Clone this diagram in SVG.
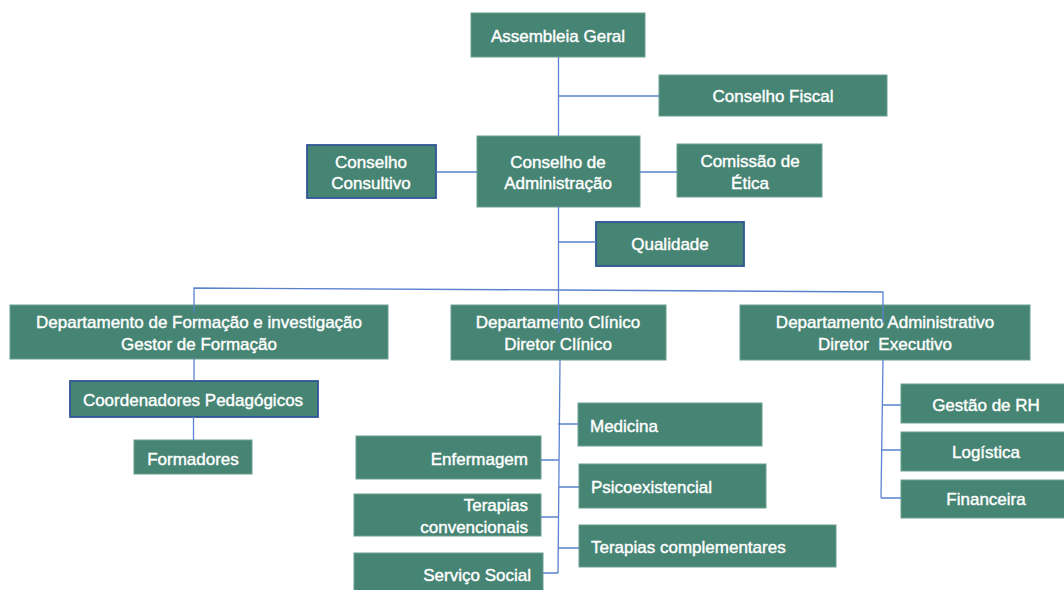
<svg xmlns="http://www.w3.org/2000/svg" width="1064" height="590" viewBox="0 0 1064 590">
<style>
.b{fill:#468473;stroke:#6a9f8f;stroke-width:1}
.bb{fill:#468473;stroke:#2f5597;stroke-width:1.8}
.t{font-family:"Liberation Sans",Arial,sans-serif;font-size:17px;fill:#ffffff;stroke:#ffffff;stroke-width:0.4;dominant-baseline:central}
.c{text-anchor:middle}
.r{text-anchor:end}
.l{text-anchor:start}
.ln{fill:none;stroke:#5a82cf;stroke-width:1.3}
</style>
<rect width="1064" height="590" fill="#ffffff"/>
<g id="assembleia"><rect class="b" x="471" y="13" width="174" height="44"/><text class="t c" x="558" y="36">Assembleia Geral</text></g>
<g id="fiscal"><rect class="b" x="659" y="75" width="228" height="41"/><text class="t c" x="773" y="96">Conselho Fiscal</text></g>
<g id="admin"><rect class="b" x="477" y="136" width="163" height="71"/><text class="t c" x="558" y="162">Conselho de</text><text class="t c" x="558" y="183">Administração</text></g>
<g id="consultivo"><rect class="bb" x="307" y="145" width="129" height="53"/><text class="t c" x="371" y="162">Conselho</text><text class="t c" x="371" y="183">Consultivo</text></g>
<g id="etica"><rect class="b" x="677" y="144" width="145" height="53"/><text class="t c" x="750" y="161">Comissão de</text><text class="t c" x="750" y="183">Ética</text></g>
<g id="qualidade"><rect class="bb" x="596" y="222" width="148" height="44"/><text class="t c" x="670" y="244">Qualidade</text></g>
<g id="dep-formacao"><rect class="b" x="10" y="305" width="378" height="54"/><text class="t c" x="199" y="322">Departamento de Formação e investigação</text><text class="t c" x="199" y="344">Gestor de Formação</text></g>
<g id="dep-clinico"><rect class="b" x="451" y="305" width="215" height="55"/><text class="t c" x="558" y="322">Departamento Clínico</text><text class="t c" x="558" y="344">Diretor Clínico</text></g>
<g id="dep-admin"><rect class="b" x="740" y="305" width="290" height="55"/><text class="t c" x="885" y="322" xml:space="preserve">Departamento Administrativo</text><text class="t c" x="885" y="344" xml:space="preserve">Diretor  Executivo</text></g>
<g id="coordenadores"><rect class="bb" x="70" y="381" width="248" height="36"/><text class="t c" x="193" y="400">Coordenadores Pedagógicos</text></g>
<g id="formadores"><rect class="b" x="134" y="440" width="118" height="34"/><text class="t c" x="193" y="459">Formadores</text></g>
<g id="medicina"><rect class="b" x="578" y="403" width="184" height="43"/><text class="t l" x="590" y="426">Medicina</text></g>
<g id="psico"><rect class="b" x="579" y="464" width="187" height="44"/><text class="t l" x="591" y="487">Psicoexistencial</text></g>
<g id="ter-compl"><rect class="b" x="579" y="525" width="257" height="42"/><text class="t l" x="591" y="547">Terapias complementares</text></g>
<g id="enfermagem"><rect class="b" x="356" y="436" width="185" height="43"/><text class="t r" x="528" y="459">Enfermagem</text></g>
<g id="ter-conv"><rect class="b" x="354" y="494" width="187" height="42"/><text class="t r" x="528" y="505">Terapias</text><text class="t r" x="528" y="527">convencionais</text></g>
<g id="servico"><rect class="b" x="354" y="553" width="189" height="40"/><text class="t r" x="531" y="575">Serviço Social</text></g>
<g id="rh"><rect class="b" x="901" y="384" width="170" height="39"/><text class="t c" x="986" y="405">Gestão de RH</text></g>
<g id="logistica"><rect class="b" x="901" y="432" width="170" height="39"/><text class="t c" x="986" y="452">Logística</text></g>
<g id="financeira"><rect class="b" x="901" y="480" width="170" height="38"/><text class="t c" x="986" y="499">Financeira</text></g>
<g id="connectors">
<path class="ln" d="M558.5 57 V136 M558.5 96 H659 M436 172 H477 M640 172 H677 M558.5 207 V290 M558.5 242 H596"/>
<path class="ln" d="M194 313 V288 L558.5 290 L883 292 V323"/>
<path class="ln" d="M558.5 290 V333"/>
<path class="ln" d="M194 359 V381 M193.5 417 V440"/>
<path class="ln" d="M560 360 L558 573 M558 424 H578 M541 460 H559.5 M558.5 487 H579 M541 517 H558.5 M558 548 H579 M543 573 H558"/>
<path class="ln" d="M883 360 L881 498 M882 405 H901 M881.5 450 H901 M881 498 H901"/>
</g>
</svg>
